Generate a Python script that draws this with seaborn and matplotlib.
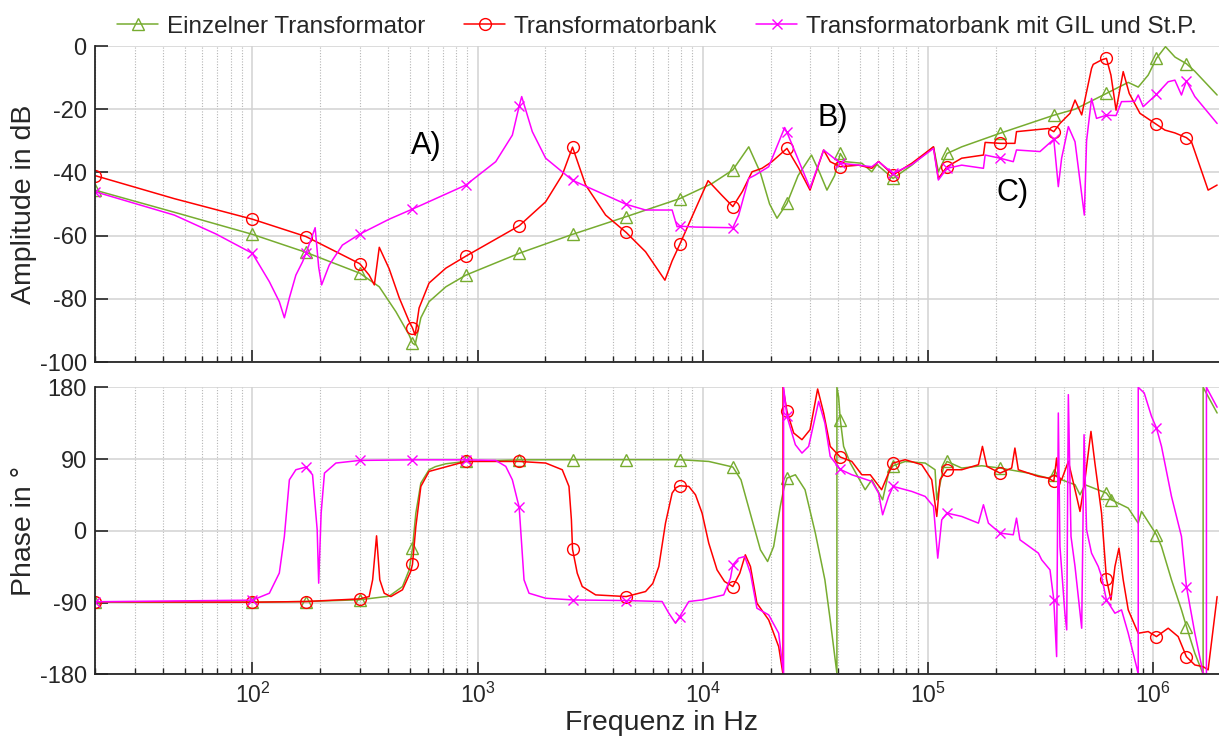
import numpy as np
import pandas as pd
import matplotlib
matplotlib.use("Agg")
import matplotlib.pyplot as plt
import seaborn as sns
from matplotlib.ticker import LogLocator

# ---------------- data ----------------
series_labels = ["Einzelner Transformator", "Transformatorbank", "Transformatorbank mit GIL und St.P."]

marker_freqs = [20, 100, 173, 300, 514, 887, 1530, 2640, 4570, 7900, 13600, 23650,
                40800, 70000, 121500, 209000, 362000, 620000, 1034000, 1405000]

# Amplitude, Einzelner Transformator
mag_einzel_f = [20, 45, 100, 173, 300, 366, 434, 497, 514, 528, 560, 609, 723, 887, 1530, 2640, 4570,
                7900, 11000, 13600, 16000, 18000, 19800, 21360, 23650, 26500, 30400, 33000, 35590,
                38500, 40800, 42900, 50860, 56310, 59280, 70000, 84760, 105800, 111200, 121500,
                141200, 209000, 362000, 449700, 620000, 774800, 858200, 950200, 1034000, 1134000,
                1250000, 1405000, 1531000, 1922500]
mag_einzel = [-45.6, -52.6, -59.6, -65.3, -71.9, -76.2, -84.1, -91.5, -94.0, -94.6, -86.0, -80.9,
              -76.2, -72.5, -65.6, -59.6, -54.0, -48.3, -43.5, -39.2, -31.9, -40.0, -50.0, -54.5,
              -49.8, -41.0, -34.5, -40.0, -45.6, -41.0, -34.0, -36.6, -37.1, -39.8, -37.5, -41.9,
              -37.7, -31.9, -39.8, -34.0, -31.9, -27.6, -21.9, -20.0, -15.0, -11.5, -13.0, -9.2,
              -3.9, -0.2, -3.5, -5.6, -8.0, -15.5]

# Amplitude, Transformatorbank
mag_bank_f = [20, 45, 100, 173, 300, 330, 348, 366, 405, 449, 497, 514, 528, 550, 609, 723, 887,
              1530, 2006, 2377, 2640, 3019, 3703, 4570, 5570, 6790, 7310, 7900, 10556, 12140, 13600,
              15000, 16550, 18320, 20280, 23650, 26670, 29940, 34410, 36800, 40800, 49170, 56310,
              60340, 70000, 84760, 105800, 111200, 121500, 141200, 176300, 179400, 209000, 243200,
              247200, 342300, 362000, 385500, 427300, 449700, 481500, 532400, 541700, 589800,
              620000, 649200, 684100, 736000, 782800, 873400, 1034000, 1127000, 1248400, 1405000,
              1479000, 1753800, 1922500]
mag_bank = [-41.0, -48.3, -54.8, -60.3, -68.9, -72.5, -75.6, -63.7, -70.5, -79.7, -87.2, -89.2,
            -91.5, -82.9, -75.0, -70.3, -66.5, -56.9, -49.3, -40.8, -32.0, -44.0, -53.5, -59.0,
            -65.1, -74.1, -68.0, -62.8, -42.6, -47.2, -50.8, -46.0, -39.8, -38.7, -36.6, -32.4,
            -38.7, -45.6, -32.9, -36.6, -38.2, -37.7, -38.7, -36.5, -40.8, -37.1, -31.9, -41.9,
            -38.2, -35.5, -34.5, -30.5, -30.8, -30.8, -27.1, -26.1, -27.1, -24.5, -21.3, -17.1,
            -21.8, -7.1, -5.8, -4.4, -3.9, -9.2, -20.3, -8.1, -15.0, -21.3, -24.8, -26.6, -27.5,
            -29.0, -30.3, -45.6, -44.0]

# Amplitude, Transformatorbank mit GIL und St.P.
mag_gil_f = [20, 45, 69, 100, 119, 131.7, 138.7, 146, 156, 167, 173, 190, 197, 203, 219.5, 251, 300,
             405, 514, 887, 1204, 1427, 1530, 1570, 1750, 2006, 2640, 4570, 5570, 7310, 7691, 7900,
             9282, 13600, 14440, 16000, 17130, 19620, 23100, 23650, 29940, 34410, 40800, 49170,
             56310, 60340, 70000, 84760, 105800, 111200, 121500, 141200, 176300, 179400, 209000,
             239200, 247200, 314400, 362000, 379100, 392100, 420000, 449700, 494600, 506100,
             532400, 560300, 620000, 684100, 723400, 829600, 858200, 903000, 1034000, 1165800,
             1248400, 1335400, 1405000, 1531000, 1922500]
mag_gil = [-46.1, -53.5, -59.5, -65.6, -74.6, -80.9, -86.0, -79.7, -72.5, -68.3, -65.6, -57.5,
           -70.0, -75.6, -69.3, -63.0, -59.5, -54.8, -51.6, -44.0, -36.6, -28.2, -19.0, -16.0,
           -27.1, -35.5, -42.5, -50.1, -51.9, -51.9, -57.2, -57.0, -57.3, -57.5, -53.5, -41.9,
           -40.8, -38.2, -25.8, -27.3, -45.0, -32.9, -37.1, -37.7, -38.2, -36.6, -40.3, -37.5,
           -32.4, -42.4, -38.7, -37.7, -38.7, -34.5, -35.5, -36.6, -32.9, -33.4, -29.5, -44.5,
           -35.5, -25.5, -30.3, -53.5, -30.0, -16.6, -22.9, -21.9, -22.0, -17.6, -17.5, -15.5,
           -19.2, -15.3, -11.3, -10.8, -15.5, -11.0, -16.0, -24.5]

# Phase, Einzelner Transformator
ph_einzel_f = [20, 100, 173, 300, 405, 464, 497, 514, 532, 560, 609, 650, 723, 887, 1530, 2640, 4570,
               7900, 10630, 13600, 14780, 16550, 18030, 19400, 20640, 22090, 22850, 23650, 25770,
               28450, 31610, 34850, 36800, 39410, 39410, 40100, 40800, 42200, 45190, 52600, 56310,
               62900, 66830, 70000, 79220, 97180, 107500, 109400, 117000, 121500, 141200, 173200,
               209000, 279100, 342300, 362000, 392100, 449700, 473200, 497800, 620000, 652000,
               774800, 858200, 887500, 1034000, 1088700, 1205800, 1335400, 1405000, 1531000,
               1637900, 1666400, 1666400, 1922500]
ph_einzel = [-89.5, -89.6, -88.7, -86.5, -82.0, -70.0, -49.0, -21.8, 22.2, 59.9, 76.6, 80.5, 84.1,
             87.0, 89.0, 89.2, 89.2, 89.2, 87.0, 80.0, 64.0, 13.8, -23.9, -38.5, -19.7, 30.6, 51.5,
             66.1, 70.3, 51.5, -2.9, -61.5, -111.8, -179.0, 180.0, 168.0, 139.4, 105.9, 85.0, 51.5,
             64.0, 38.9, 72.4, 81.6, 87.0, 85.0, 76.6, 38.9, 78.7, 87.0, 78.7, 81.6, 78.7, 72.4,
             66.1, 70.3, 64.0, 57.8, 45.2, 57.8, 47.3, 38.9, 28.5, 9.6, 24.3, -5.0, -19.7, -61.5,
             -99.2, -120.1, -153.6, -174.5, -180.0, 180.0, 147.8]
ph_einzel_extra_markers = [652000]

# Phase, Transformatorbank
ph_bank_f = [20, 100, 173, 300, 330, 342, 356, 368, 385, 412, 464, 505, 514, 532, 560, 609, 887,
             1530, 2006, 2377, 2546, 2610, 2640, 2771, 2916, 3344, 4570, 5570, 6000, 6380, 6830,
             7310, 7600, 7900, 8668, 9282, 9929, 10630, 11570, 12490, 13600, 14600, 15450, 16280,
             17390, 19620, 21730, 22710, 22710, 23650, 25330, 27570, 29940, 32360, 34410, 36800,
             40800, 45900, 50860, 55420, 62260, 66830, 70000, 79220, 93860, 103900, 109400, 113100,
             121500, 141200, 167500, 174500, 182600, 209000, 235300, 243200, 251900, 309200,
             342300, 362000, 372600, 379100, 392100, 420000, 449700, 473200, 497800, 529300,
             551000, 589800, 620000, 649200, 676400, 704500, 736000, 774800, 858200, 950200,
             1034000, 1165800, 1291000, 1405000, 1531000, 1666400, 1753800, 1922500]
ph_bank = [-89.0, -89.6, -88.7, -85.4, -82.5, -61.5, -6.3, -61.5, -78.3, -82.5, -74.0, -51.0,
           -41.9, 5.4, 55.7, 74.5, 87.0, 87.0, 85.0, 76.6, 55.7, 13.8, -23.0, -53.2, -69.9, -80.4,
           -82.5, -76.2, -66.0, -44.8, 9.6, 47.3, 54.0, 56.5, 55.7, 45.2, 22.2, -15.5, -49.0,
           -63.6, -69.9, -53.2, -30.1, -44.8, -90.8, -111.8, -145.3, -180.0, 180.0, 149.9, 122.7,
           114.3, 126.8, 177.9, 147.8, 105.9, 92.5, 87.0, 70.3, 70.3, 51.5, 72.4, 85.0, 89.2,
           82.9, 64.0, 18.0, 64.0, 76.6, 76.6, 82.9, 105.9, 80.8, 72.4, 78.7, 103.8, 76.6, 68.2,
           66.1, 62.0, 91.3, 68.2, 64.0, 87.0, 51.5, 24.3, 64.0, 124.7, 85.0, 22.2, -60.0, -86.7,
           -44.8, -21.8, -61.5, -99.2, -128.5, -126.4, -132.7, -122.2, -132.7, -158.0, -168.3,
           -170.4, -174.5, -82.5]

# Phase, Transformatorbank mit GIL und St.P.
ph_gil_f = [20, 100, 119, 131.7, 138.7, 146, 156, 173, 185, 194, 197, 202, 209, 235, 300, 514, 887,
            1204, 1334, 1427, 1501, 1530, 1608, 1692, 2006, 2640, 4570, 6600, 7068, 7570, 7900,
            8668, 9929, 12390, 13270, 13600, 14440, 15360, 16280, 17390, 19620, 21730, 22850,
            22850, 23650, 25770, 27570, 29520, 31610, 32700, 34850, 36800, 40800, 45900, 56310,
            60340, 62900, 66830, 70000, 84760, 97180, 105800, 110500, 115100, 121500, 141200,
            167500, 176300, 185500, 209000, 239200, 247200, 256100, 309200, 319800, 348200, 362000,
            372600, 379100, 385500, 405400, 413100, 420000, 431600, 449700, 481500, 493200, 506100,
            532400, 570300, 589800, 620000, 676400, 723400, 774800, 843400, 858200, 858200, 912400,
            982900, 1034000, 1088700, 1205800, 1335400, 1405000, 1531000, 1666400, 1723700,
            1723700, 1922500]
ph_gil = [-89.0, -87.0, -78.3, -53.0, -7.1, 64.0, 76.6, 80.0, 70.3, 1.3, -65.7, 22.2, 72.4, 85.0,
          88.3, 89.0, 89.0, 88.3, 80.8, 64.0, 38.9, 29.7, -61.5, -78.3, -84.6, -86.7, -87.5, -88.7,
          -103.4, -116.0, -107.6, -88.7, -86.7, -80.4, -59.4, -42.7, -34.3, -32.2, -53.2, -97.1,
          -105.5, -128.5, -180.0, 180.0, 143.6, 108.0, 97.5, 105.9, 143.6, 162.4, 135.2, 93.3,
          77.0, 70.3, 62.0, 47.3, 20.1, 43.1, 55.7, 49.4, 43.1, 30.6, -34.3, 13.8, 22.2, 18.0,
          9.6, 32.7, 9.6, -2.9, -5.0, 15.9, -11.3, -28.0, -36.4, -49.0, -86.7, -157.8, 147.8,
          -19.7, -103.4, -124.3, 170.8, -7.1, -44.8, -122.2, 120.6, 1.3, -28.0, -44.8, -57.3,
          -86.7, -103.4, -99.2, -128.5, -170.4, -180.0, 180.0, 172.9, 143.6, 128.9, 105.9, 43.1,
          -7.1, -69.9, -128.5, -178.7, -180.0, 180.0, 155.0]

mag_yticks = [-100, -80, -60, -40, -20, 0]
ph_yticks = [-180, -90, 0, 90, 180]
annotations = [("A)", 507, -31.6), ("B)", 32440, -22.8), ("C)", 201800, -46.5)]

# ---------------- styling ----------------
sns.set_theme(style="ticks")
plt.rcParams['font.family'] = ['Liberation Sans', 'DejaVu Sans']
plt.rcParams['mathtext.fontset'] = 'custom'
plt.rcParams['mathtext.rm'] = 'Liberation Sans'
plt.rcParams['mathtext.it'] = 'Liberation Sans:italic'
plt.rcParams['mathtext.default'] = 'regular'
plt.rcParams['axes.unicode_minus'] = False

C_GREEN = '#77AC30'
C_RED = '#FF0000'
C_MAG = '#FF00FF'
styles = [(C_GREEN, '^', 8.5), (C_RED, 'o', 8.5), (C_MAG, 'x', 7.0)]

fig = plt.figure(figsize=(12.19, 7.40), dpi=100)
ax1 = fig.add_axes([0.0779, 0.5108, 0.9221, 0.4270])
ax2 = fig.add_axes([0.0779, 0.0888, 0.9221, 0.3878])


def draw(ax, fr, vals, style, label=None, extra=()):
    color, marker, ms = style
    mset = set(marker_freqs) | set(extra)
    idx = [i for i, f in enumerate(fr) if f in mset and (i == 0 or fr[i - 1] != f)]
    df = pd.DataFrame({"f": fr, "v": vals})
    kw = dict(label=label) if label else {}
    sns.lineplot(data=df, x="f", y="v", ax=ax, color=color, linewidth=1.1, marker=marker,
                 markevery=idx, markersize=ms, markerfacecolor='none', markeredgecolor=color,
                 markeredgewidth=1.0, sort=False, estimator=None, **kw)


draw(ax1, mag_einzel_f, mag_einzel, styles[0], series_labels[0])
draw(ax1, mag_bank_f, mag_bank, styles[1], series_labels[1])
draw(ax1, mag_gil_f, mag_gil, styles[2], series_labels[2])
draw(ax2, ph_einzel_f, ph_einzel, styles[0], extra=ph_einzel_extra_markers)
draw(ax2, ph_bank_f, ph_bank, styles[1])
draw(ax2, ph_gil_f, ph_gil, styles[2])

for ax in (ax1, ax2):
    ax.set_xscale('log')
    ax.set_xlim(20, 1.96e6)
    ax.xaxis.set_major_locator(LogLocator(base=10, numticks=20))
    ax.xaxis.set_minor_locator(LogLocator(base=10, subs=np.arange(2, 10), numticks=200))
    ax.set_axisbelow(True)
    ax.grid(which='major', axis='both', color='#d2d2d2', linewidth=1.1, linestyle='-')
    ax.grid(which='minor', axis='x', color='#b5b5b5', linewidth=0.8, linestyle=(0, (1, 1.5)))
    ax.grid(which='minor', axis='y', visible=False)
    for s in ('top', 'right'):
        ax.spines[s].set_visible(False)
    for s in ('left', 'bottom'):
        ax.spines[s].set_color('#262626')
        ax.spines[s].set_linewidth(1.3)
    ax.tick_params(which='major', direction='in', length=9, width=1.2, color='#262626',
                   labelsize=17, pad=6, labelcolor='#262626')
    ax.tick_params(which='minor', direction='in', length=4.5, width=1.0, color='#262626')
    ax.set_xlabel("")

ax1.set_ylim(-100, 0)
ax1.set_yticks(mag_yticks)
ax1.tick_params(axis='x', which='both', labelbottom=False)
ax2.set_ylim(-180, 180)
ax2.set_yticks(ph_yticks)
ax2.tick_params(axis='x', labelsize=16.5)

ax1.set_ylabel("Amplitude in dB", fontsize=20.5, color='#262626')
ax2.set_ylabel("Phase in °", fontsize=20.5, color='#262626')
ax1.yaxis.set_label_coords(-0.052, 0.5)
ax2.yaxis.set_label_coords(-0.052, 0.5)
ax2.set_xlabel("Frequenz in Hz", fontsize=20.5, color='#262626')
ax2.xaxis.set_label_coords(0.5036, -0.124)

for txt, xf, yv in annotations:
    ax1.text(xf, yv, txt, fontsize=22, ha='left', va='center', color='black')

leg2 = ax2.get_legend()
if leg2 is not None:
    leg2.remove()
handles, labels = ax1.get_legend_handles_labels()
ax1.legend(handles, labels, loc='lower center', bbox_to_anchor=(0.5, 1.0), ncol=3,
           frameon=False, fontsize=17.5, handlelength=1.7, handletextpad=0.35,
           columnspacing=1.6, borderaxespad=0.25, borderpad=0.1)

fig.savefig("out.png", dpi=100, facecolor='white')
